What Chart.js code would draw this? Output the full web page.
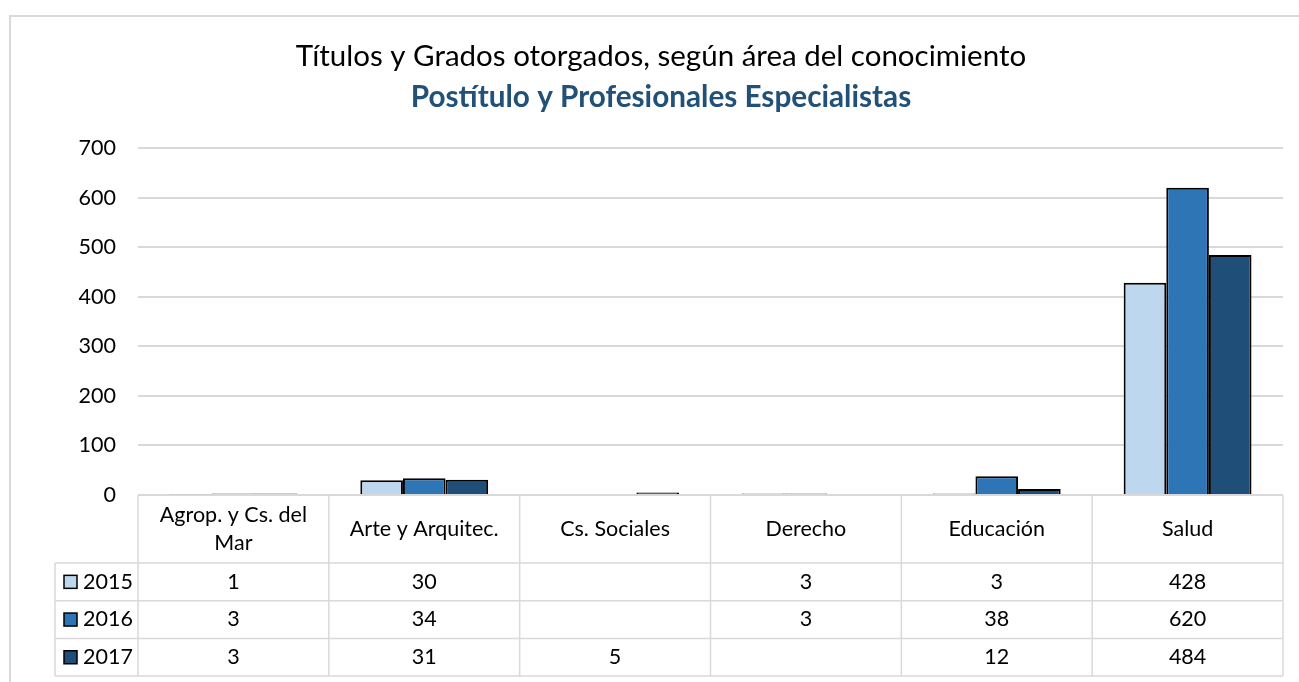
<!DOCTYPE html>
<html>
<head>
<meta charset="utf-8">
<script src="https://cdn.jsdelivr.net/npm/chart.js@4/dist/chart.umd.min.js"></script>
<style>
  html, body { margin: 0; padding: 0; background: #fff; overflow: hidden; }
  #wrap { width: 1299px; height: 682px; position: relative; overflow: hidden; }
</style>
</head>
<body>
<div id="wrap"><canvas id="c" width="1299" height="682"></canvas></div>
<script>
const categories = [['Agrop. y Cs. del', 'Mar'], 'Arte y Arquitec.', 'Cs. Sociales', 'Derecho', 'Educación', 'Salud'];
const seriesNames = ['2015', '2016', '2017'];
const values2015 = [1, 30, null, 3, 3, 428];
const values2016 = [3, 34, null, 3, 38, 620];
const values2017 = [3, 31, 5, null, 12, 484];
const colors = ['#BDD7EE', '#2E75B6', '#1F4E79'];
const titleText = 'Títulos y Grados otorgados, según área del conocimiento';
const subtitleText = 'Postítulo y Profesionales Especialistas';

const FONT = 'Lato, "Open Sans", sans-serif';
const allValues = [values2015, values2016, values2017];

const framePlugin = {
  id: 'frame',
  beforeDraw(chart) {
    const ctx = chart.ctx;
    ctx.save();
    ctx.fillStyle = '#fff';
    ctx.fillRect(0, 0, chart.width, chart.height);
    ctx.strokeStyle = '#d9d9d9';
    ctx.lineWidth = 2;
    ctx.beginPath();
    ctx.moveTo(10, chart.height + 5);
    ctx.lineTo(10, 16);
    ctx.lineTo(chart.width + 5, 16);
    ctx.stroke();
    ctx.restore();
  }
};

const tablePlugin = {
  id: 'dataTable',
  afterDraw(chart) {
    const ctx = chart.ctx;
    const area = chart.chartArea;
    const n = categories.length;
    const colW = (area.right - area.left) / n;
    const top = area.bottom;
    const headerBottom = top + 68;
    const rowH = 37.7;
    const legendLeft = 55;
    const rows = [headerBottom, headerBottom + rowH, headerBottom + 2 * rowH, headerBottom + 3 * rowH];
    ctx.save();
    ctx.strokeStyle = '#d9d9d9';
    ctx.lineWidth = 1.5;
    ctx.beginPath();
    ctx.moveTo(area.left, top); ctx.lineTo(area.right, top);
    rows.forEach(y => { ctx.moveTo(legendLeft, y); ctx.lineTo(area.right, y); });
    for (let i = 0; i <= n; i++) {
      const x = area.left + i * colW;
      ctx.moveTo(x, top); ctx.lineTo(x, rows[3]);
    }
    ctx.moveTo(legendLeft, rows[0]); ctx.lineTo(legendLeft, rows[3]);
    ctx.stroke();

    ctx.fillStyle = '#000';
    ctx.font = '21.5px ' + FONT;
    ctx.textAlign = 'center';
    ctx.textBaseline = 'middle';
    const xs = chart.scales.x;
    categories.forEach((cat, i) => {
      const cx = xs.getPixelForValue(i);
      const lines = Array.isArray(cat) ? cat : [cat];
      const lh = 28;
      const cy = (top + headerBottom) / 2;
      lines.forEach((l, j) => {
        ctx.fillText(l, cx, cy + (j - (lines.length - 1) / 2) * lh);
      });
      allValues.forEach((vals, r) => {
        if (vals[i] !== null && vals[i] !== undefined) {
          ctx.fillText(String(vals[i]), cx, rows[r] + rowH / 2);
        }
      });
    });
    seriesNames.forEach((name, r) => {
      const cy = rows[r] + rowH / 2;
      ctx.fillStyle = colors[r];
      ctx.fillRect(64, cy - 6.5, 13, 13);
      ctx.strokeStyle = '#000';
      ctx.lineWidth = 1.5;
      ctx.strokeRect(64, cy - 6.5, 13, 13);
      ctx.fillStyle = '#000';
      ctx.textAlign = 'left';
      ctx.fillText(name, 83, cy);
    });
    ctx.restore();
  }
};

const datasets = seriesNames.map((name, i) => ({
  label: name,
  data: allValues[i],
  backgroundColor: colors[i],
  borderColor: '#000',
  borderWidth: 2,
  categoryPercentage: 0.67,
  barPercentage: 1.0
}));

new Chart(document.getElementById('c'), {
  type: 'bar',
  data: { labels: categories, datasets },
  plugins: [framePlugin, tablePlugin],
  options: {
    responsive: false,
    animation: false,
    layout: { padding: { top: 0, right: 16, bottom: 187, left: 39 } },
    plugins: {
      legend: { display: false },
      tooltip: { enabled: false },
      title: {
        display: true,
        text: titleText,
        color: '#000',
        font: { family: FONT, size: 29.5, weight: 'normal' },
        padding: { top: 39, bottom: 2 }
      },
      subtitle: {
        display: true,
        text: subtitleText,
        color: '#215078',
        font: { family: FONT, size: 29.7, weight: 'bold' },
        padding: { top: 3, bottom: 33 }
      }
    },
    scales: {
      x: {
        display: false
      },
      y: {
        min: 0, max: 700,
        ticks: { stepSize: 100, color: '#000', padding: 22, font: { family: FONT, size: 21.5 } },
        grid: { color: '#d9d9d9', lineWidth: 2, drawTicks: false },
        border: { display: false },
        afterFit(scale) { scale.width = 99; }
      }
    }
  }
});
</script>
</body>
</html>
